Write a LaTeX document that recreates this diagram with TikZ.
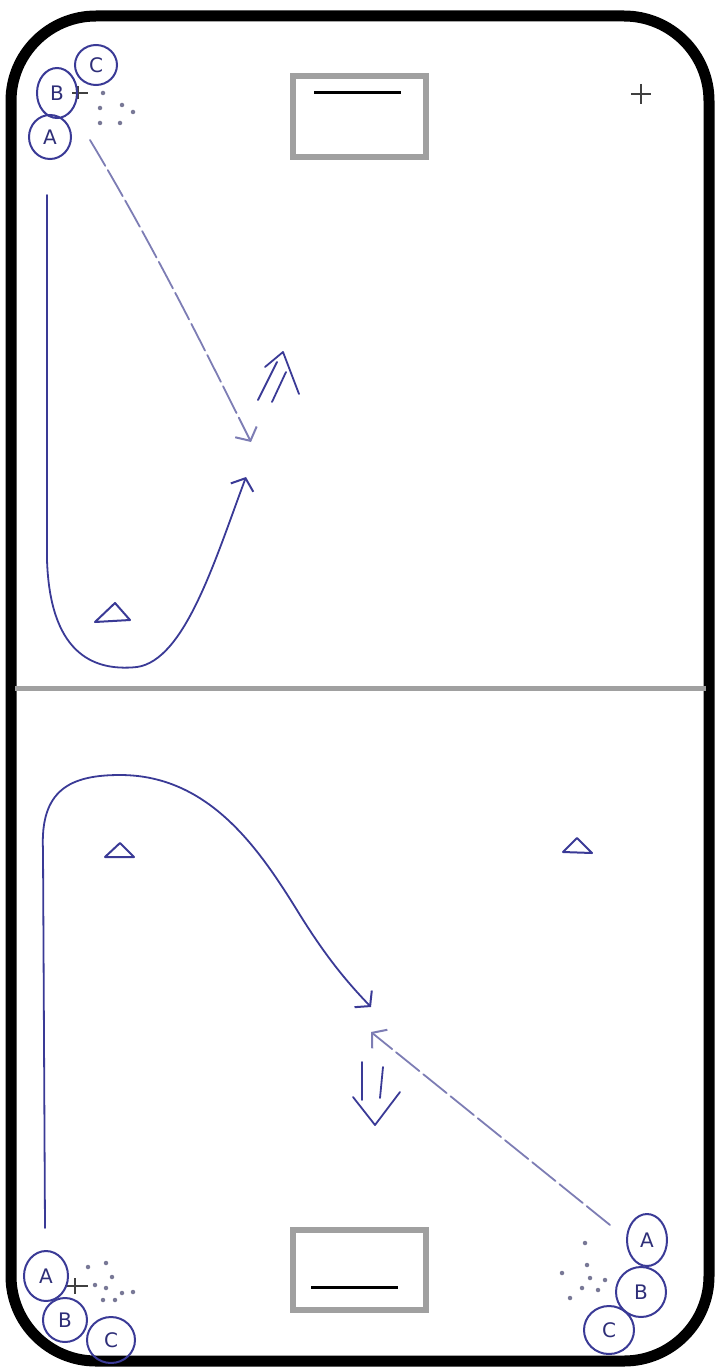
\documentclass[tikz,border=0pt]{standalone}
\usepackage{fontspec}
\setsansfont{DejaVu Sans}
\usetikzlibrary{arrows.meta,shapes.geometric}
\definecolor{ink}{RGB}{58,58,150}
\definecolor{inklight}{RGB}{125,125,180}
\definecolor{goalgray}{RGB}{160,160,160}
\definecolor{dotc}{RGB}{120,120,150}
\tikzset{
  player/.style={draw=ink,line width=2pt,ellipse,inner sep=0pt,font=\sffamily\fontsize{20}{20}\selectfont,text=ink!80!black},
  run/.style={draw=ink,line width=1.8pt,line cap=round,line join=round},
  pass/.style={draw=inklight,line width=1.8pt,dash pattern=on 30pt off 5pt,line cap=round},
  barb/.style={-{Straight Barb[length=10pt,width=24pt,line width=2pt]}},
  goalbox/.style={draw=goalgray,line width=6pt},
  goalline/.style={draw=black,line width=3pt},
  cone/.style={draw=ink,line width=2pt,line join=round},
  pdot/.style={fill=dotc,circle,inner sep=0pt,minimum size=4.5pt},
  cross/.style={draw=black!75,line width=1.8pt}
}
\begin{document}
\begin{tikzpicture}[x=1pt,y=-1pt]
\useasboundingbox (0,0) rectangle (715,1367);
% rink
\draw[line width=11pt,rounded corners=85pt] (11,16) rectangle (709,1361);
\draw[draw=goalgray,line width=5pt] (15,688) -- (706,688);
% goals
\node[goalbox,minimum width=133pt,minimum height=81pt,inner sep=0pt] (goalT) at (359.5,116.5) {};
\draw[goalline] (314,93) -- (401,93);
\node[goalbox,minimum width=133pt,minimum height=80pt,inner sep=0pt] (goalB) at (359.5,1270) {};
\draw[goalline] (311,1287) -- (398,1287);
% crosses
\draw[cross] (631,94) -- (651,94) (641,84) -- (641,104);
\draw[cross] (72,93) -- (88,93) (78,86) -- (78,99);
\draw[cross] (65,1286) -- (88,1286) (75,1278) -- (75,1294);
% ---------- top half ----------
\node[player,minimum width=42pt,minimum height=40pt] (tC) at (96,65) {C};
\node[player,minimum width=40pt,minimum height=50pt] (tB) at (57,93) {B};
\node[player,minimum width=42pt,minimum height=44pt] (tA) at (50,137) {A};
\foreach \p in {(103,93),(100,108),(122,105),(133,112),(100,123),(120,123)}
  \node[pdot] at \p {};
\coordinate (t1) at (47,195);
\coordinate (t2) at (246,477);
\draw[run,barb] (t1) -- (47,560) .. controls (50,650) and (90,672) .. (137,667)
   .. controls (185,660) and (215,560) .. (t2);
\coordinate (tp1) at (90,140);
\coordinate (tp2) at (251,442);
\draw[pass,barb] (tp1) .. controls (150,240) and (200,340) .. (tp2);
% double arrow up
\draw[run] (258,400) -- (277,362) (272,402) -- (286,372);
\draw[run] (265,367) -- (283,352) -- (299,394);
\draw[cone] (115,603) -- (95,622) -- (130,620) -- cycle;
% ---------- bottom half ----------
\draw[cone] (120,843) -- (105,857) -- (134,857) -- cycle;
\draw[cone] (577,838) -- (563,852) -- (592,853) -- cycle;
\node[player,minimum width=44pt,minimum height=50pt] (bA) at (46,1276) {A};
\node[player,minimum width=44pt,minimum height=44pt] (bB) at (65,1320) {B};
\node[player,minimum width=48pt,minimum height=46pt] (bC) at (111,1340) {C};
\foreach \p in {(88,1267),(106,1263),(112,1277),(95,1285),(106,1288),(122,1293),(133,1292),(103,1300),(115,1300)}
  \node[pdot] at \p {};
\node[player,minimum width=40pt,minimum height=52pt] (rA) at (647,1240) {A};
\node[player,minimum width=50pt,minimum height=50pt] (rB) at (641,1292) {B};
\node[player,minimum width=50pt,minimum height=48pt] (rC) at (609,1330) {C};
\foreach \p in {(585,1243),(587,1265),(562,1273),(590,1278),(605,1280),(582,1288),(598,1290),(570,1298)}
  \node[pdot] at \p {};
\coordinate (b1) at (45,1228);
\coordinate (b2) at (371,1007);
\draw[run,barb] (b1) -- (43,850) .. controls (40,790) and (70,775) .. (120,775)
   .. controls (210,775) and (260,850) .. (300,915) .. controls (325,955) and (345,980) .. (b2);
\coordinate (bp1) at (610,1225);
\coordinate (bp2) at (371,1032);
\draw[pass,barb] (bp1) -- (bp2);
% double arrow down
\draw[run] (362,1062) -- (362,1100) (383,1067) -- (380,1098);
\draw[run] (353,1097) -- (375,1125) -- (400,1092);
\end{tikzpicture}
\end{document}
